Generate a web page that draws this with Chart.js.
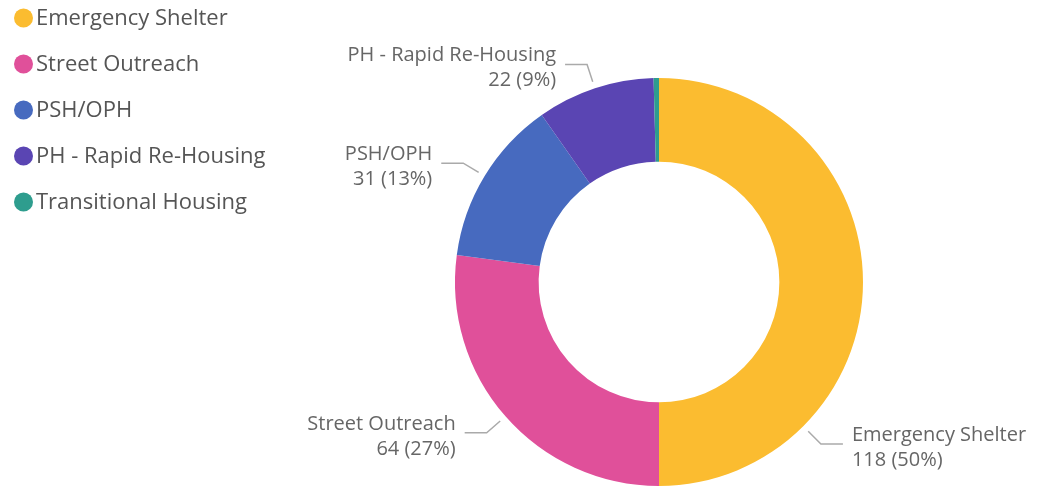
<!DOCTYPE html>
<html>
<head>
<meta charset="utf-8">
<script src="https://cdn.jsdelivr.net/npm/chart.js@4/dist/chart.umd.min.js"></script>
<style>
    html, body { margin: 0; padding: 0; background: #fff; }
    #wrap { position: relative; width: 1044px; height: 487px; }
</style>
</head>
<body>
<div id="wrap"><canvas id="chart"></canvas></div>
<script>
// 各类住房项目人数
const categories = ['Emergency Shelter', 'Street Outreach', 'PSH/OPH', 'PH - Rapid Re-Housing', 'Transitional Housing'];
const counts = [118, 64, 31, 22, 1];
const colors = ['#FBBC30', '#E0509A', '#476ABF', '#5A45B3', '#2E9D8E'];
// 标签锚点在扇区上的位置（0..1），null 表示不画外部标签
const labelAnchor = [0.75, 0.5, 0.5, 0.5, null];

const FONT = '"Open Sans", "Noto Sans", sans-serif';
const total = counts.reduce((a, b) => a + b, 0);

const legendPlugin = {
    id: 'sideLegend',
    afterDraw(chart) {
        const ctx = chart.ctx;
        ctx.save();
        ctx.font = `22px ${FONT}`;
        ctx.textBaseline = 'middle';
        ctx.textAlign = 'left';
        categories.forEach((name, i) => {
            const y = 18 + i * 46;
            ctx.beginPath();
            ctx.arc(23.5, y, 9.5, 0, Math.PI * 2);
            ctx.fillStyle = colors[i];
            ctx.fill();
            ctx.fillStyle = '#555';
            ctx.fillText(name, 36, y + 1);
        });
        ctx.restore();
    }
};

const outsideLabels = {
    id: 'outsideLabels',
    afterDraw(chart) {
        const ctx = chart.ctx;
        const arcs = chart.getDatasetMeta(0).data;
        ctx.save();
        ctx.font = `20px ${FONT}`;
        ctx.textBaseline = 'middle';
        arcs.forEach((arc, i) => {
            const frac = labelAnchor[i];
            if (frac === null) return;
            const { x, y, startAngle, endAngle, outerRadius } = arc.getProps(['x', 'y', 'startAngle', 'endAngle', 'outerRadius'], true);
            const a = startAngle + (endAngle - startAngle) * frac;
            const cos = Math.cos(a), sin = Math.sin(a);
            const p0 = { x: x + (outerRadius + 7) * cos, y: y + (outerRadius + 7) * sin };
            const p1 = { x: x + (outerRadius + 25) * cos, y: y + (outerRadius + 25) * sin };
            const right = cos >= 0;
            const p2 = { x: p1.x + (right ? 22 : -22), y: p1.y };

            ctx.beginPath();
            ctx.moveTo(p0.x, p0.y);
            ctx.lineTo(p1.x, p1.y);
            ctx.lineTo(p2.x, p2.y);
            ctx.strokeStyle = '#aaaaaa';
            ctx.lineWidth = 1.5;
            ctx.stroke();

            const tx = p2.x + (right ? 9 : -9);
            ctx.textAlign = right ? 'left' : 'right';
            ctx.fillStyle = '#666';
            const pct = Math.round(counts[i] / total * 100);
            ctx.fillText(categories[i], tx, p2.y - 9);
            ctx.fillText(`${counts[i]} (${pct}%)`, tx, p2.y + 16);
        });
        ctx.restore();
    }
};

new Chart(document.getElementById('chart'), {
    type: 'doughnut',
    data: {
        labels: categories,
        datasets: [{
            data: counts,
            backgroundColor: colors,
            borderWidth: 0,
            hoverOffset: 0
        }]
    },
    options: {
        responsive: true,
        maintainAspectRatio: false,
        animation: false,
        cutout: '59%',
        layout: { padding: { left: 274, right: 0, top: 78, bottom: 1 } },
        plugins: {
            legend: { display: false },
            tooltip: { enabled: false }
        }
    },
    plugins: [legendPlugin, outsideLabels]
});
</script>
</body>
</html>
